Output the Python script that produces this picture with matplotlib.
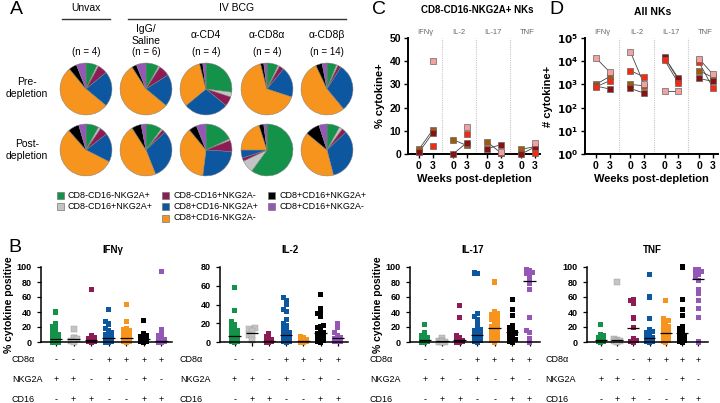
import numpy as np
import matplotlib
matplotlib.use("Agg")
import matplotlib.pyplot as plt
from matplotlib.patches import Rectangle

plt.rcParams['font.family'] = ['Liberation Sans', 'DejaVu Sans']

# ---------------- data ----------------
subset_names = ["CD8-CD16-NKG2A+", "CD8-CD16+NKG2A+", "CD8-CD16+NKG2A-", "CD8+CD16-NKG2A+",
                "CD8+CD16-NKG2A-", "CD8+CD16+NKG2A+", "CD8+CD16+NKG2A-"]
subset_colors = ["#14924a", "#c4c4c4", "#8e1b55", "#0d57a0", "#f7941d", "#000000", "#9457b5"]

groups = ["", "IgG/\nSaline", "α-CD4", "α-CD8α", "α-CD8β"]
group_n = [4, 6, 4, 4, 14]
pie_pre = [
    [0.07, 0.01, 0.06, 0.22, 0.53, 0.05, 0.06],
    [0.08, 0.01, 0.07, 0.20, 0.55, 0.03, 0.06],
    [0.27, 0.03, 0.06, 0.28, 0.32, 0.02, 0.02],
    [0.07, 0.01, 0.03, 0.19, 0.66, 0.02, 0.02],
    [0.06, 0.01, 0.02, 0.30, 0.54, 0.04, 0.03],
]
pie_post = [
    [0.08, 0.015, 0.05, 0.18, 0.56, 0.07, 0.045],
    [0.10, 0.01, 0.02, 0.31, 0.47, 0.06, 0.03],
    [0.18, 0.01, 0.07, 0.26, 0.37, 0.05, 0.06],
    [0.60, 0.08, 0.02, 0.05, 0.20, 0.03, 0.02],
    [0.08, 0.02, 0.03, 0.33, 0.40, 0.09, 0.05],
]

# panel B: % cytokine positive per subset
ifng_vals = [
    [40, 24, 20, 17, 14, 12, 10, 9, 8, 7, 6, 6, 5, 5, 4, 4, 3, 3, 3, 2, 2, 2, 1, 1, 1, 0.5, 0.5, 0, 0, 0],
    [18, 6, 5, 4, 2, 0],
    [70, 8, 6, 5, 4, 3, 2, 2, 1, 1, 0.5, 0],
    [43, 27, 24, 18, 15, 12, 10, 9, 8, 7, 6, 6, 5, 5, 4, 4, 3, 3, 2, 2, 2, 1, 1, 1, 0.5, 0, 0],
    [50, 27, 18, 16, 15, 13, 11, 10, 9, 8, 7, 6, 5, 5, 4, 4, 3, 3, 2, 2, 1, 1, 0.5, 0],
    [29, 11, 9, 8, 7, 6, 5, 5, 4, 4, 3, 3, 2, 2, 1, 1, 0.5, 0],
    [94, 17, 10, 8, 4, 3, 2, 2, 1, 1, 0.5, 0.5, 0, 0],
]
il2_vals = [
    [58, 34, 22, 19, 16, 14, 12, 10, 9, 8, 7, 6, 6, 5, 5, 4, 4, 3, 3, 2, 2, 1, 1, 0.5, 0],
    [15, 14, 12, 7, 6, 2],
    [9, 6, 4, 3, 2, 2, 1, 1, 0.5, 0.5, 0, 0],
    [47, 44, 40, 35, 33, 24, 20, 18, 16, 14, 12, 10, 9, 8, 7, 6, 6, 5, 4, 4, 3, 3, 2, 2, 1, 1, 0.5, 0],
    [6, 5, 4, 3, 3, 2, 2, 1.5, 1, 1, 1, 0.5, 0.5, 0, 0],
    [51, 36, 32, 30, 27, 18, 16, 15, 12, 10, 9, 8, 6, 5, 4, 3, 2, 1, 0],
    [20, 15, 10, 7, 5, 4, 4, 3, 3, 2, 1, 1, 0.5],
]
il17_vals = [
    [23, 12, 9, 7, 6, 5, 4, 4, 3, 3, 2, 2, 2, 1, 1, 1, 0.5, 0.5, 0, 0],
    [5, 2, 1, 0.5, 0, 0],
    [49, 33, 9, 6, 4, 3, 2, 1, 1, 0.5, 0, 0],
    [92, 91, 38, 34, 30, 25, 20, 17, 15, 13, 12, 10, 9, 8, 7, 6, 5, 4, 3, 3, 2, 1, 0],
    [80, 40, 38, 36, 35, 32, 30, 28, 25, 23, 21, 20, 19, 18, 17, 15, 13, 12, 10, 9, 8, 6, 4, 2, 0],
    [57, 43, 35, 22, 19, 16, 14, 12, 10, 8, 5, 3, 1, 0],
    [96, 95, 94, 93, 92, 90, 85, 78, 70, 33, 15, 13, 5, 0],
]
tnf_vals = [
    [23, 10, 8, 6, 5, 4, 4, 3, 3, 2, 2, 1, 1, 1, 0.5, 0],
    [80, 4, 3, 2, 1, 0],
    [57, 55, 52, 32, 19, 5, 2, 1, 0],
    [90, 60, 31, 17, 14, 12, 10, 8, 7, 6, 5, 5, 4, 4, 3, 3, 2, 2, 1, 1, 0.5, 0],
    [55, 31, 29, 27, 25, 22, 20, 18, 16, 14, 13, 12, 11, 10, 9, 8, 6, 5, 4, 3, 2, 1, 0],
    [100, 57, 43, 35, 21, 18, 15, 13, 10, 9, 8, 6, 4, 2, 1, 0],
    [97, 96, 95, 94, 93, 90, 86, 82, 70, 65, 55, 45, 33, 0],
]
b_titles = ["IFNγ", "IL-2", "IL-17", "TNF"]
b_ymax = [100, 80, 100, 100]
cd8_signs = ["-", "-", "-", "+", "+", "+", "+"]
nkg2a_signs = ["+", "+", "-", "+", "-", "+", "-"]
cd16_signs = ["-", "+", "+", "-", "-", "+", "+"]

# panels C / D: four animals, week 0 and week 3
cytokines = ["IFNγ", "IL-2", "IL-17", "TNF"]
animal_colors = ["#a05a0a", "#8b1010", "#f52a10", "#f4a0a0"]  # brown, dark red, red, pink
c_wk0 = [
    [2.0, 6.2, 5.2, 2.0],
    [0.7, 0.0, 2.3, 0.0],
    [np.nan, np.nan, np.nan, np.nan],
    [np.nan, np.nan, np.nan, np.nan],
]
c_wk3 = [
    [10.3, 3.7, 0.5, 3.2],
    [9.0, 4.8, 4.0, 3.0],
    [3.3, 8.6, 0.3, 0.5],
    [40.3, 11.5, 0.8, 4.7],
]
d_wk0 = [
    [1.0e3, 1.0e3, 1.4e4, 3.9e3],
    [850, 670, 1.45e4, 1.8e3],
    [790, 3.9e3, 1.08e4, 8.9e3],
    [1.37e4, 2.56e4, 530, 1.28e4],
]
d_wk3 = [
    [2.2e3, 870, 1.6e3, 2.0e3],
    [630, 420, 1.8e3, 1.35e3],
    [1.44e3, 2.1e3, 1.13e3, 710],
    [3.4e3, 1.0e3, 530, 2.7e3],
]

W, H = 720, 403
fig = plt.figure(figsize=(7.2, 4.03), dpi=100)


def fx(px):
    return px / W


def fy(py):
    return 1 - py / H


# ---------------- panel A ----------------
fig.text(fx(10), fy(10), "A", fontsize=14, va="center", ha="left")
fig.text(fx(86), fy(8), "Unvax", fontsize=7.5, ha="center", va="center")
fig.text(fx(237), fy(8), "IV BCG", fontsize=7.5, ha="center", va="center")
fig.add_artist(plt.Line2D([fx(62), fx(110)], [fy(19), fy(19)], color="#333333", lw=1.0))
fig.add_artist(plt.Line2D([fx(128), fx(346)], [fy(19), fy(19)], color="#333333", lw=1.0))
fig.text(fx(27), fy(88), "Pre-\ndepletion", fontsize=7.5, ha="center", va="center", linespacing=1.3)
fig.text(fx(27), fy(150), "Post-\ndepletion", fontsize=7.5, ha="center", va="center", linespacing=1.3)

pie_cx = [86, 146, 206, 267, 327]
for i in range(5):
    if groups[i]:
        fig.text(fx(pie_cx[i]), fy(35), groups[i], fontsize=7.5, ha="center", va="center", linespacing=1.2)
    fig.text(fx(pie_cx[i]), fy(52), "(n = %d)" % group_n[i], fontsize=7, ha="center", va="center")
    for vals, cy in [(pie_pre[i], 89), (pie_post[i], 150)]:
        pax = fig.add_axes([fx(pie_cx[i] - 27), fy(cy + 27), 54 / W, 54 / H])
        pax.pie(vals, colors=subset_colors, startangle=90, counterclock=False,
                wedgeprops=dict(edgecolor="#808080", linewidth=0.35))
        pax.set_xlim(-1.04, 1.04)
        pax.set_ylim(-1.04, 1.04)
        pax.set_aspect("equal")

leg_x = [57, 162, 268]
leg_rows = [[0, 1], [2, 3, 4], [5, 6]]
for c, items in enumerate(leg_rows):
    for r, k in enumerate(items):
        y = 195 + r * 11.5
        fig.add_artist(Rectangle((fx(leg_x[c]), fy(y + 3.5)), 7 / W, 7 / H, transform=fig.transFigure,
                                 facecolor=subset_colors[k], edgecolor="#777777", lw=0.5))
        fig.text(fx(leg_x[c] + 11), fy(y), subset_names[k], fontsize=6.5, va="center", ha="left")

# ---------------- panel B ----------------
fig.text(fx(8), fy(247), "B", fontsize=14, va="center", ha="left")


def swarm_offsets(vals, ymax):
    # simple beeswarm: put each point as close to the centre as it can go
    vals = np.asarray(vals, float)
    order = np.argsort(vals)
    xs = np.zeros(len(vals))
    dx, dy = 0.17, ymax * 0.05
    cands = [0.0]
    for k in range(1, 4):
        cands += [k * dx / 2 * 1.0, -k * dx / 2 * 1.0]
    cands = sorted(set(cands), key=abs)
    placed = []
    for idx in order:
        best, best_hits = 0.0, None
        for c in cands:
            hits = sum(1 for (px, py) in placed if abs(px - c) < dx and abs(py - vals[idx]) < dy)
            if hits == 0:
                best, best_hits = c, 0
                break
            if best_hits is None or hits < best_hits:
                best, best_hits = c, hits
        xs[idx] = best
        placed.append((best, vals[idx]))
    return xs


b_left = [41, 220, 410, 587]
b_right = [172, 348, 540, 708]
b_title_x = [113, 290, 473, 652]
label_off = [29, 40, 40, 42]
all_b = [ifng_vals, il2_vals, il17_vals, tnf_vals]
for j in range(4):
    ax = fig.add_axes([fx(b_left[j]), fy(342), (b_right[j] - b_left[j]) / W, 75 / H])
    for i, vals in enumerate(all_b[j]):
        offs = swarm_offsets(vals, b_ymax[j])
        ax.scatter(i + offs, vals, s=13, marker="s", color=subset_colors[i],
                   edgecolors="none" if i != 1 else "#999999", linewidths=0.3, clip_on=False, zorder=2)
        ax.hlines(np.median(vals), i - 0.36, i + 0.36, color="black", lw=0.9, zorder=3)
    ax.set_xlim(-0.85, 6.6)
    ax.set_ylim(0, b_ymax[j])
    ax.set_yticks(np.arange(0, b_ymax[j] + 1, 20))
    ax.set_xticks(range(7))
    ax.set_xticklabels([])
    for s in ["top", "right"]:
        ax.spines[s].set_visible(False)
    for s in ["left", "bottom"]:
        ax.spines[s].set_linewidth(1.1)
    ax.tick_params(axis="both", length=3, width=0.9, labelsize=6.5)
    for lab in ax.get_yticklabels():
        lab.set_fontweight("bold")
    fig.text(fx(b_title_x[j]), fy(250), b_titles[j], fontsize=7, fontweight="bold", ha="center", va="center")
    # table of markers
    tr = ax.get_xaxis_transform()
    for r, (name, signs) in enumerate([("CD8α", cd8_signs), ("NKG2A", nkg2a_signs), ("CD16", cd16_signs)]):
        y = -0.24 - r * 0.265
        fig.text(fx(b_left[j] - label_off[j]), fy(360 + r * 19.5), name, fontsize=6.5, ha="left", va="center")
        for i, sg in enumerate(signs):
            ax.text(i, y, sg, transform=tr, fontsize=6.5, ha="center", va="center")
    if j in (0, 2):
        ax.set_ylabel("% cytokine positive", fontsize=7.5, fontweight="bold", labelpad=2)

# ---------------- panels C and D ----------------
pair_x = np.array([0.32, 0.72])


def paired_panel(ax, wk0, wk3, logy):
    for g in range(4):
        for a in range(4):
            xs = g + pair_x
            ys = [wk0[a][g], wk3[a][g]]
            if not (np.isnan(ys[0]) or np.isnan(ys[1])):
                ax.plot(xs, ys, color="#444444", lw=0.6, zorder=2)
            ax.plot(xs, ys, ls="none", marker="s", ms=4.5, mfc=animal_colors[a],
                    mec="#666666", mew=0.5, zorder=3, clip_on=False)
    for g in range(1, 4):
        ax.axvline(g, color="#c8c8c8", lw=0.8, ls=(0, (1, 1)), zorder=1)
    ax.set_xlim(0, 3.87)
    ax.set_xticks(np.concatenate([g + pair_x for g in range(4)]))
    ax.set_xticklabels(["0", "3"] * 4)
    for s in ["top", "right"]:
        ax.spines[s].set_visible(False)
    for s in ["left", "bottom"]:
        ax.spines[s].set_linewidth(1.4)
    ax.tick_params(axis="both", length=3, width=1.0, labelsize=7.5, pad=2)
    for lab in ax.get_xticklabels() + ax.get_yticklabels():
        lab.set_fontweight("bold")
    ax.set_xlabel("Weeks post-depletion", fontsize=8, fontweight="bold", labelpad=2)
    for g in range(4):
        ax.text(g + 0.5, 1.05, cytokines[g], transform=ax.get_xaxis_transform(),
                fontsize=5.5, color="#666666", ha="center", va="center")


axc = fig.add_axes([fx(408), fy(154), 132 / W, 116 / H])
paired_panel(axc, c_wk0, c_wk3, False)
axc.set_ylim(0, 50)
axc.set_yticks(range(0, 51, 10))
axc.set_ylabel("% cytokine+", fontsize=8, fontweight="bold", labelpad=3)
fig.text(fx(372), fy(9), "C", fontsize=14, va="center", ha="left")
fig.text(fx(477), fy(10), "CD8-CD16-NKG2A+ NKs", fontsize=7, fontweight="bold", ha="center", va="center")

axd = fig.add_axes([fx(585), fy(154), 133 / W, 116 / H])
axd.set_yscale("log")
paired_panel(axd, d_wk0, d_wk3, True)
axd.set_ylim(1, 1e5)
axd.set_yticks([10.0 ** k for k in range(6)])
axd.set_yticklabels([r"$\mathbf{10^{%d}}$" % k for k in range(6)])
axd.minorticks_off()
axd.set_ylabel("# cytokine+", fontsize=8, fontweight="bold", labelpad=3)
fig.text(fx(549), fy(9), "D", fontsize=14, va="center", ha="left")
fig.text(fx(653), fy(12), "All NKs", fontsize=7.5, fontweight="bold", ha="center", va="center")

fig.savefig("out.png", dpi=100)
